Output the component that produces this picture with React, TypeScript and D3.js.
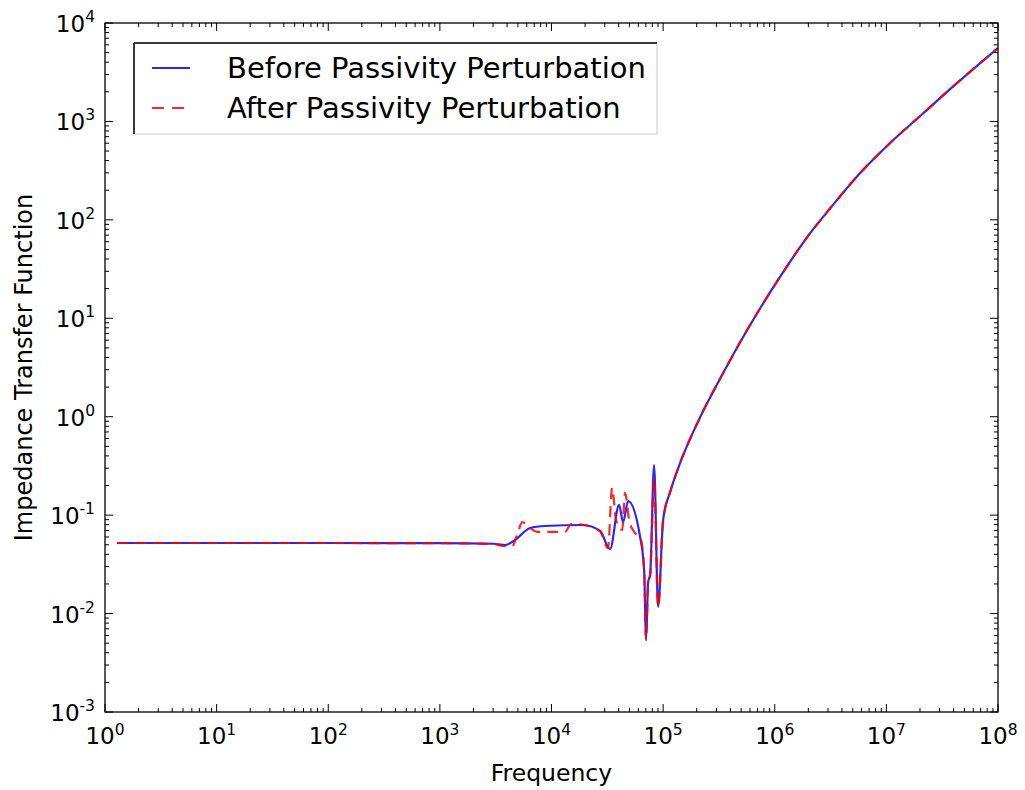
import React from "react";
import * as d3 from "d3";

// ---- data ----
const freqBefore = [1.28, 10, 100, 1000, 3000, 3840, 4720, 6430, 8770, 19200, 27200, 33500, 40300, 43800, 48600, 62200, 67600, 70400, 73400, 76500, 83000, 90200, 100000, 115600, 142000, 215000, 345000, 566000, 821000, 1.05e6, 2.07e6, 3.14e6, 5.82e6, 1.08e7, 2.14e7, 3.74e7, 1e8];
const valBefore = [0.0521, 0.0521, 0.0521, 0.0519, 0.0512, 0.0497, 0.056, 0.0741, 0.0776, 0.0794, 0.069, 0.0453, 0.127, 0.0851, 0.139, 0.06, 0.0277, 0.0054, 0.0209, 0.0247, 0.323, 0.0117, 0.0893, 0.172, 0.339, 0.993, 2.78, 7.6, 15.3, 23.7, 73, 131, 299, 604, 1210, 2140, 5570];

const freqAfter = [1.28, 10, 100, 1000, 3000, 3840, 4440, 5020, 5460, 6430, 7430, 13200, 15000, 19200, 27200, 32100, 34900, 37900, 43000, 45600, 49600, 55000, 62200, 67600, 70400, 73400, 76500, 83000, 90200, 100000, 115600, 142000, 215000, 345000, 566000, 821000, 1.05e6, 2.07e6, 3.14e6, 5.82e6, 1.08e7, 2.14e7, 3.74e7, 1e8];
const valAfter = [0.0521, 0.0521, 0.0521, 0.0519, 0.0508, 0.0485, 0.0485, 0.0675, 0.0851, 0.0741, 0.0675, 0.0675, 0.0813, 0.0794, 0.069, 0.0464, 0.189, 0.0893, 0.0707, 0.168, 0.0893, 0.0675, 0.06, 0.0277, 0.0054, 0.0209, 0.0247, 0.238, 0.0117, 0.0893, 0.172, 0.339, 0.993, 2.78, 7.6, 15.3, 23.7, 73, 131, 299, 604, 1210, 2140, 5570];

const xExponents = [0, 1, 2, 3, 4, 5, 6, 7, 8];
const yExponents = [-3, -2, -1, 0, 1, 2, 3, 4];
const seriesNames = ["Before Passivity Perturbation", "After Passivity Perturbation"];
const xLabel = "Frequency";
const yLabel = "Impedance Transfer Function";

const W = 1025, H = 790;
const L = 105, R = 998, T = 23, B = 712;
const FONT = "DejaVu Sans, sans-serif";

export default function App() {
  const x = d3.scaleLog().domain([1, 1e8]).range([L, R]);
  const y = d3.scaleLog().domain([1e-3, 1e4]).range([B, T]);

  const line = d3
    .line<[number, number]>()
    .x((d) => x(d[0]))
    .y((d) => y(d[1]))
    .curve(d3.curveMonotoneX);

  const before = line(freqBefore.map((f, i) => [f, valBefore[i]]) as [number, number][]) || "";
  const after = line(freqAfter.map((f, i) => [f, valAfter[i]]) as [number, number][]) || "";

  const xMinor: number[] = [];
  xExponents.slice(0, -1).forEach((e) => {
    for (let k = 2; k <= 9; k++) xMinor.push(k * Math.pow(10, e));
  });
  const yMinor: number[] = [];
  yExponents.slice(0, -1).forEach((e) => {
    for (let k = 2; k <= 9; k++) yMinor.push(k * Math.pow(10, e));
  });

  const MAJ = 8, MIN = 4;

  return (
    <svg
      width={W}
      height={H}
      style={{ position: "absolute", left: 0, top: 0, background: "#fff" }}
      fontFamily={FONT}
    >
      <rect x={0} y={0} width={W} height={H} fill="#fff" />
      <defs>
        <clipPath id="clip">
          <rect x={L} y={T} width={R - L} height={B - T} />
        </clipPath>
      </defs>
      {/* lines */}
      <g clipPath="url(#clip)">
        <path d={before} fill="none" stroke="#0000ff" strokeOpacity={0.85} strokeWidth={2.2} />
        <path d={after} fill="none" stroke="#ff0000" strokeOpacity={0.85} strokeWidth={2.2} strokeDasharray="11,7" />
      </g>

      {/* ticks */}
      <g stroke="#000" strokeWidth={1}>
        {xExponents.map((e) => {
          const px = x(Math.pow(10, e));
          return (
            <g key={"xm" + e}>
              <line x1={px} x2={px} y1={B} y2={B - MAJ} />
              <line x1={px} x2={px} y1={T} y2={T + MAJ} />
            </g>
          );
        })}
        {xMinor.map((v, i) => {
          const px = x(v);
          return (
            <g key={"xn" + i}>
              <line x1={px} x2={px} y1={B} y2={B - MIN} />
              <line x1={px} x2={px} y1={T} y2={T + MIN} />
            </g>
          );
        })}
        {yExponents.map((e) => {
          const py = y(Math.pow(10, e));
          return (
            <g key={"ym" + e}>
              <line x1={L} x2={L + MAJ} y1={py} y2={py} />
              <line x1={R} x2={R - MAJ} y1={py} y2={py} />
            </g>
          );
        })}
        {yMinor.map((v, i) => {
          const py = y(v);
          return (
            <g key={"yn" + i}>
              <line x1={L} x2={L + MIN} y1={py} y2={py} />
              <line x1={R} x2={R - MIN} y1={py} y2={py} />
            </g>
          );
        })}
      </g>

      {/* frame */}
      <rect x={L} y={T} width={R - L} height={B - T} fill="none" stroke="#000" strokeWidth={1.3} />

      {/* tick labels */}
      <g fill="#000" fontSize={23}>
        {xExponents.map((e) => (
          <text key={"xl" + e} x={x(Math.pow(10, e))} y={744} textAnchor="middle">
            <tspan>10</tspan>
            <tspan fontSize={15.5} dy={-9}>{String(e)}</tspan>
          </text>
        ))}
        {yExponents.map((e) => (
          <text key={"yl" + e} x={95} y={y(Math.pow(10, e)) + 9} textAnchor="end">
            <tspan>10</tspan>
            <tspan fontSize={15.5} dy={-10}>{String(e)}</tspan>
          </text>
        ))}
      </g>

      {/* axis labels */}
      <text x={(L + R) / 2} y={781} textAnchor="middle" fontSize={23.5} fill="#000">
        {xLabel}
      </text>
      <text
        transform={`translate(32,${(T + B) / 2}) rotate(-90)`}
        textAnchor="middle"
        fontSize={24}
        fill="#000"
      >
        {yLabel}
      </text>

      {/* legend */}
      <g>
        <rect x={134} y={43} width={523} height={91} fill="#fff" stroke="#c8c8c8" strokeWidth={1} />
        <line x1={134} x2={657} y1={43} y2={43} stroke="#000" strokeWidth={1.5} />
        <line x1={134} x2={134} y1={43} y2={134} stroke="#000" strokeWidth={1.5} />
        <line x1={152} x2={190} y1={68} y2={68} stroke="#0000ff" strokeOpacity={0.85} strokeWidth={2} />
        <line x1={152} x2={190} y1={108} y2={108} stroke="#ff0000" strokeOpacity={0.85} strokeWidth={2} strokeDasharray="12,8" />
        <text x={227} y={78} fontSize={29} fill="#000">{seriesNames[0]}</text>
        <text x={227} y={118} fontSize={29} fill="#000">{seriesNames[1]}</text>
      </g>
    </svg>
  );
}
